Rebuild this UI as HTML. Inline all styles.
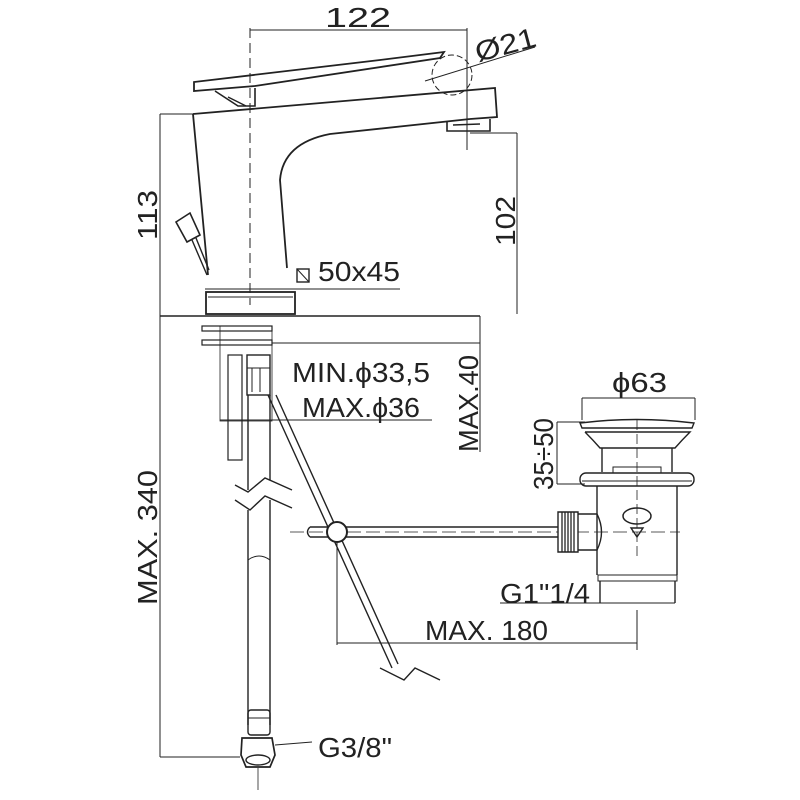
<!DOCTYPE html>
<html><head><meta charset="utf-8"><style>html,body{margin:0;padding:0;background:#fff}svg{display:block}</style></head><body>
<svg width="800" height="800" viewBox="0 0 800 800" xmlns="http://www.w3.org/2000/svg" font-family="Liberation Sans, DejaVu Sans, sans-serif" fill="none" stroke="#222" stroke-width="1.4">
<rect width="800" height="800" fill="#fff" stroke="none"/>
<g fill="#222" stroke="none" font-size="28">
<text x="325" y="27" textLength="66" lengthAdjust="spacingAndGlyphs">122</text>
<text x="478" y="62" textLength="62" lengthAdjust="spacingAndGlyphs" transform="rotate(-15 478 62)">Ø21</text>
<text x="157" y="240" textLength="50" lengthAdjust="spacingAndGlyphs" transform="rotate(-90 157 240)">113</text>
<text x="515" y="246" textLength="50" lengthAdjust="spacingAndGlyphs" transform="rotate(-90 515 246)">102</text>
<text x="318" y="281" textLength="82" lengthAdjust="spacingAndGlyphs">50x45</text>
<text x="292" y="382" textLength="138" lengthAdjust="spacingAndGlyphs">MIN.ϕ33,5</text>
<text x="302" y="417" textLength="118" lengthAdjust="spacingAndGlyphs">MAX.ϕ36</text>
<text x="478" y="452" textLength="97" lengthAdjust="spacingAndGlyphs" transform="rotate(-90 478 452)">MAX.40</text>
<text x="612" y="392" textLength="55" lengthAdjust="spacingAndGlyphs">ϕ63</text>
<text x="553" y="490" textLength="72" lengthAdjust="spacingAndGlyphs" transform="rotate(-90 553 490)">35÷50</text>
<text x="500" y="603" textLength="90" lengthAdjust="spacingAndGlyphs">G1"1/4</text>
<text x="425" y="640" textLength="123" lengthAdjust="spacingAndGlyphs">MAX. 180</text>
<text x="157" y="605" textLength="135" lengthAdjust="spacingAndGlyphs" transform="rotate(-90 157 605)">MAX. 340</text>
<text x="318" y="757" textLength="74" lengthAdjust="spacingAndGlyphs">G3/8"</text>
</g>
<line x1="250" y1="30" x2="467" y2="30" stroke-width="1"/>
<line x1="250" y1="28" x2="250" y2="305" stroke-width="1" stroke-dasharray="10,5"/>
<line x1="467" y1="28" x2="467" y2="150" stroke-width="1"/>
<circle cx="452" cy="75" r="20" stroke-width="1" stroke-dasharray="6,3"/>
<line x1="425" y1="81" x2="535" y2="47" stroke-width="1"/>
<path d="M194 82 L194 91 L255 86 L440 58 L444 52 L380 60 Z" stroke-width="1.8"/>
<path d="M215 91 L238 106 L255 106 L255 88" stroke-width="1.6"/>
<path d="M228 97 L246 106"/>
<path d="M193 114 L495 88 L497 117 L470 119" stroke-width="1.8"/>
<path d="M447 121 L447 131 L490 131 L490 119" stroke-width="1.6"/>
<path d="M453 125 L480 124"/>
<path d="M470 119 L330 134 Q283 143 280 180 L287 268" stroke-width="1.8"/>
<path d="M193 114 L208 275" stroke-width="1.8"/>
<path d="M176 222 L190 213 L200 235 L187 242 Z" stroke-width="1.6"/>
<path d="M192 240 L207 275 M196 238 L209 270"/>
<line x1="160" y1="114" x2="160" y2="757" stroke-width="1"/>
<line x1="160" y1="114" x2="193" y2="114" stroke-width="1"/>
<line x1="517" y1="133" x2="517" y2="314" stroke-width="1"/>
<line x1="470" y1="133" x2="517" y2="133" stroke-width="1"/>
<rect x="206" y="292" width="89" height="22" stroke-width="1.8"/>
<line x1="208" y1="297" x2="293" y2="297" stroke-width="1"/>
<line x1="205" y1="289" x2="400" y2="289" stroke-width="1"/>
<rect x="297" y="269" width="12" height="13" stroke-width="1.4"/>
<line x1="297" y1="269" x2="309" y2="282" stroke-width="1"/>
<line x1="160" y1="316" x2="480" y2="316" stroke-width="1.4"/>
<rect x="202" y="326" width="70" height="5" stroke-width="1.2"/>
<rect x="202" y="340" width="70" height="5" stroke-width="1.2"/>
<line x1="272" y1="343" x2="480" y2="343" stroke-width="1"/>
<rect x="220" y="326" width="52" height="95" stroke-width="0.8"/>
<rect x="228" y="355" width="14" height="105" stroke-width="1.2"/>
<rect x="247" y="355" width="23" height="40" stroke-width="1.4"/>
<line x1="247" y1="368" x2="270" y2="368" stroke-width="1"/>
<line x1="252" y1="368" x2="252" y2="392" stroke-width="1"/>
<line x1="260" y1="368" x2="260" y2="392" stroke-width="1"/>
<line x1="220" y1="420" x2="432" y2="420" stroke-width="1"/>
<line x1="480" y1="316" x2="480" y2="452" stroke-width="1"/>
<path d="M248 395 L248 490 M270 395 L270 480 M248 510 L248 725 M270 500 L270 725"/>
<path d="M235 485 L248 492 L265 478 L292 490"/>
<path d="M235 500 L250 510 L265 496 L292 508"/>
<path d="M248 560 Q259 552 270 560" stroke-width="1"/>
<path d="M268 395 L392 668 M276 395 L398 664"/>
<path d="M380 668 L404 680 L415 668 L440 680"/>
<path d="M310 527 L558 527 M310 537 L558 537 M310 527 Q305 532 310 537"/>
<line x1="290" y1="532" x2="680" y2="532" stroke-width="0.8" stroke-dasharray="14,5"/>
<circle cx="337" cy="532" r="10" fill="#fff" stroke-width="2"/>
<line x1="337" y1="542" x2="337" y2="645" stroke-width="1"/>
<line x1="337" y1="643" x2="637" y2="643" stroke-width="1"/>
<line x1="637" y1="610" x2="637" y2="650" stroke-width="1"/>
<line x1="582" y1="398" x2="695" y2="398" stroke-width="1"/>
<line x1="582" y1="398" x2="582" y2="420" stroke-width="1"/>
<line x1="695" y1="398" x2="695" y2="420" stroke-width="1"/>
<line x1="557" y1="422" x2="557" y2="484" stroke-width="1"/>
<line x1="557" y1="422" x2="585" y2="422" stroke-width="1"/>
<line x1="557" y1="484" x2="585" y2="484" stroke-width="1"/>
<path d="M580 423 Q637 416 694 423 L692 428 L582 428 Z"/>
<path d="M585 432 L690 432 Q682 440 675 448 L600 448 Q593 440 585 432"/>
<path d="M602 448 L602 472 M672 448 L672 472"/>
<rect x="613" y="467" width="48" height="6" stroke-width="1"/>
<rect x="580" y="473" width="114" height="13" rx="6"/>
<line x1="582" y1="481" x2="692" y2="481" stroke-width="1"/>
<path d="M597 486 L597 575 M677 486 L677 575"/>
<rect x="598" y="575" width="79" height="6" stroke-width="1"/>
<path d="M600 581 L600 603 M675 581 L675 603"/>
<ellipse cx="637" cy="516" rx="14" ry="8" stroke-width="1.5"/>
<path d="M631 528 L643 528 L637 537 Z"/>
<line x1="637" y1="420" x2="637" y2="560" stroke-width="0.8" stroke-dasharray="10,4"/>
<path d="M558 512 L578 512 L578 552 L558 552 Z" fill="#fff"/>
<g stroke-width="1.3"><line x1="562" y1="512" x2="562" y2="552"/><line x1="565" y1="512" x2="565" y2="552"/><line x1="568" y1="512" x2="568" y2="552"/><line x1="571" y1="512" x2="571" y2="552"/><line x1="574" y1="512" x2="574" y2="552"/></g>
<path d="M578 514 L597 514 Q606 532 597 550 L578 550"/>
<line x1="500" y1="603" x2="675" y2="603" stroke-width="1"/>
<line x1="160" y1="757" x2="240" y2="757" stroke-width="1"/>
<rect x="248" y="710" width="22" height="25" rx="3"/>
<line x1="248" y1="718" x2="270" y2="718" stroke-width="1"/>
<path d="M242 738 L272 738 L275 755 L270 767 L246 767 L241 755 Z" stroke-width="1.7"/>
<ellipse cx="258" cy="760" rx="12" ry="5"/>
<line x1="258" y1="768" x2="258" y2="790" stroke-width="0.8"/>
<line x1="275" y1="745" x2="312" y2="742" stroke-width="1"/>
</svg>
</body></html>
